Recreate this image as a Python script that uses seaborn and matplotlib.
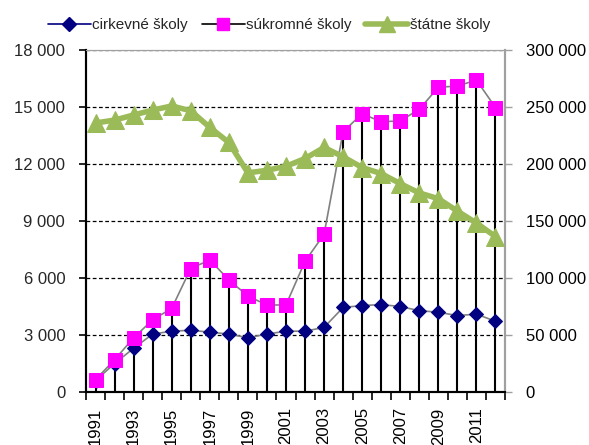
import matplotlib
matplotlib.use("Agg")
import matplotlib.pyplot as plt
import seaborn as sns
import pandas as pd
from matplotlib.ticker import FuncFormatter, FixedLocator, NullFormatter
from matplotlib.lines import Line2D

years = list(range(1991, 2013))
cirkevne = [600, 1500, 2300, 3050, 3200, 3250, 3150, 3050, 2850, 3050, 3200, 3200,
            3400, 4450, 4550, 4600, 4500, 4280, 4200, 4020, 4100, 3720]
sukromne = [650, 1700, 2850, 3800, 4400, 6500, 6950, 5900, 5050, 4580, 4580, 6880,
            8300, 13700, 14650, 14220, 14270, 14880, 16040, 16100, 16420, 14970]
statne = [236000, 238500, 243000, 247300, 250900, 246700, 232100, 218900, 192200, 194500,
          198000, 204800, 214500, 206300, 196900, 191600, 182800, 174600, 169600, 158700,
          148200, 136400]
labels = ["cirkevné školy", "súkromné školy", "štátne školy"]
left_ticks = [0, 3000, 6000, 9000, 12000, 15000, 18000]
right_ticks = [0, 50000, 100000, 150000, 200000, 250000, 300000]

df = pd.DataFrame({"rok": years, "cirk": cirkevne, "suk": sukromne, "stat": statne})

sns.set_style("white")
plt.rcParams['font.family'] = ['Liberation Sans', 'DejaVu Sans']

fig = plt.figure(figsize=(5.89, 4.45), dpi=100)
ax = fig.add_axes([86/589, 1-392/445, (505-86)/589, (392-50)/445])
ax2 = ax.twinx()

# drop lines from the top primary series down to the axis
tops = [max(a, b) for a, b in zip(cirkevne, sukromne)]
ax.vlines(df["rok"], 0, tops, colors="black", linewidth=1.5, zorder=2)

sns.lineplot(data=df, x="rok", y="cirk", ax=ax, color="#808080", linewidth=1.2,
             marker="D", markersize=7, markerfacecolor="#000080", markeredgecolor="#000080",
             zorder=4, label=labels[0], legend=False)
sns.lineplot(data=df, x="rok", y="suk", ax=ax, color="#808080", linewidth=1.2,
             marker="s", markersize=9.5, markerfacecolor="#FF00FF", markeredgecolor="#FF00FF",
             zorder=5, label=labels[1], legend=False)
sns.lineplot(data=df, x="rok", y="stat", ax=ax2, color="#9BBB59", linewidth=4,
             marker="^", markersize=13, markerfacecolor="#9BBB59", markeredgecolor="#9BBB59",
             zorder=3, label=labels[2], legend=False)

ax.set_xlim(1990.5, 2012.5)
ax.set_ylim(0, 18000)
ax2.set_ylim(0, 300000)

ax.yaxis.grid(True, color="black", linestyle=(0, (3, 2)), linewidth=0.9)
ax.set_axisbelow(True)

fmt = FuncFormatter(lambda v, p: f"{int(v):,}".replace(",", " "))
ax.set_yticks(left_ticks)
ax.yaxis.set_major_formatter(fmt)
ax2.set_yticks(right_ticks)
ax2.yaxis.set_major_formatter(fmt)

ax.set_xticks(years[::2])
ax.set_xticklabels([str(y) for y in years[::2]], rotation=90)
ax.xaxis.set_minor_locator(FixedLocator([y - 0.5 for y in years] + [2012.5]))
ax.xaxis.set_minor_formatter(NullFormatter())
ax.tick_params(axis="x", which="major", length=0, labelsize=12, pad=11, colors="black")
ax.tick_params(axis="x", which="minor", length=6, width=1.2, color="black", direction="out",
               bottom=True)
ax.tick_params(axis="y", length=5, width=1.2, color="black", direction="out",
               labelsize=12, left=True, pad=10)
ax2.tick_params(axis="y", length=5, width=1, color="#A0A0A0", direction="out",
                labelsize=12, right=True, pad=10, labelcolor="black")

ax.set_xlabel("")
ax.set_ylabel("")
ax2.set_ylabel("")

for a in (ax, ax2):
    a.spines["left"].set_color("black")
    a.spines["left"].set_linewidth(1.5)
    a.spines["bottom"].set_color("black")
    a.spines["bottom"].set_linewidth(1.5)
    a.spines["top"].set_color("#A0A0A0")
    a.spines["right"].set_color("#A0A0A0")
    a.spines["right"].set_linewidth(1.5)
ax2.patch.set_visible(False)

handles = [
    Line2D([], [], color="#000080", linewidth=1.2, marker="D", markersize=7,
           markerfacecolor="#000080", markeredgecolor="#000080"),
    Line2D([], [], color="black", linewidth=1.2, marker="s", markersize=9,
           markerfacecolor="#FF00FF", markeredgecolor="#FF00FF"),
    Line2D([], [], color="#9BBB59", linewidth=4, marker="^", markersize=12,
           markerfacecolor="#9BBB59", markeredgecolor="#9BBB59"),
]
fig.legend(handles, labels, loc="center", bbox_to_anchor=(269/589, 1-25/445), ncol=3,
           frameon=False, fontsize=11, handlelength=2.8, handletextpad=0.1,
           columnspacing=0.9)

fig.savefig("out.png", dpi=100)
